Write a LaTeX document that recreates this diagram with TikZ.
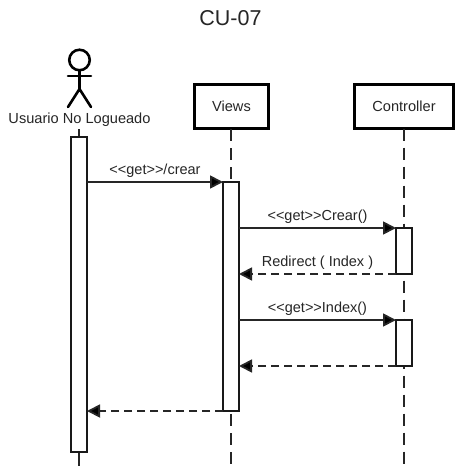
\documentclass[tikz,border=0pt]{standalone}
\usepackage{fontspec}
\setmainfont{Liberation Sans}
\usetikzlibrary{arrows.meta}
\newcommand{\llt}{<{}<}
\newcommand{\ggt}{>{}>}
\tikzset{
  diagram/.style={x=1pt,y=-1pt,every node/.style={inner sep=0pt,outer sep=0pt,text=black!85}},
  headbox/.style={draw=black,fill=white,line width=2.8pt,minimum width=#1,minimum height=44pt,font=\fontsize{14.6}{16}\selectfont},
  actbox/.style={draw=black!90,fill=white,line width=1.8pt,minimum width=16pt,minimum height=#1},
  lifeline/.style={line width=1.8pt,draw=black!85,dash pattern=on 12pt off 7pt},
  solidline/.style={line width=1.8pt,draw=black!85},
  callmsg/.style={line width=1.8pt,draw=black!85,-{Triangle[length=13pt,width=13pt,fill=black]}},
  retmsg/.style={line width=1.8pt,draw=black!85,dash pattern=on 8pt off 5pt,-{Triangle[length=13pt,width=13pt,fill=black]}},
  msglabel/.style={font=\fontsize{14.5}{16}\selectfont},
  actorline/.style={line width=2.6pt,draw=black,line cap=round}
}
\begin{document}
\begin{tikzpicture}[diagram]
\useasboundingbox (0,0) rectangle (461,468);
\fill[white] (0,0) rectangle (461,468);
\node[font=\fontsize{21.5}{24}\selectfont] (title) at (230.5,18) {CU-07};
% head boxes
\node[headbox=74pt] (views) at (231.5,106.5) {Views};
\node[headbox=99pt] (ctrl) at (404,106.5) {Controller};
% actor
\node[circle,draw=black,line width=2.6pt,minimum size=20.5pt] (head) at (79.5,60) {};
\coordinate (hip) at (79.5,89);
\coordinate (armL) at (68,76);
\coordinate (armR) at (91,76);
\coordinate (legL) at (68,107);
\coordinate (legR) at (91,107);
\draw[actorline] (head.south) -- (hip);
\draw[actorline] (armL) -- (armR);
\draw[actorline] (legL) -- (hip) -- (legR);
\node[font=\fontsize{14.6}{16}\selectfont] (ulabel) at (79.5,119.5) {Usuario No Logueado};
% lifeline ends
\coordinate (utop) at (79,129);
\coordinate (ubot) at (79,466);
\coordinate (vtop) at (231,129);
\coordinate (vbot) at (231,466);
\coordinate (cbot) at (404,466);
\draw[solidline] (utop) -- (ubot);
\draw[lifeline] (vtop) -- (vbot);
\draw[lifeline] (ctrl.south) -- (cbot);
% activations
\node[actbox=315pt] (ua) at (79,294.5) {};
\node[actbox=229pt] (va) at (231,296.5) {};
\node[actbox=46pt] (c1) at (404,251) {};
\node[actbox=46pt] (c2) at (404,343) {};
% messages
\draw[callmsg] (ua.east |- va.north west) -- (va.north west)
  node[msglabel,midway,above=4.5pt] (m1) {\llt get\ggt/crear};
\draw[callmsg] (va.east |- c1.north west) -- (c1.north west)
  node[msglabel,midway,above=4.5pt] (m2) {\llt get\ggt Crear()};
\draw[retmsg] (c1.south west) -- (va.east |- c1.south west)
  node[msglabel,midway,above=4.5pt] (m3) {Redirect ( Index )};
\draw[callmsg] (va.east |- c2.north west) -- (c2.north west)
  node[msglabel,midway,above=4.5pt] (m4) {\llt get\ggt Index()};
\draw[retmsg] (c2.south west) -- (va.east |- c2.south west);
\draw[retmsg] (va.south west) -- (ua.east |- va.south west);
\end{tikzpicture}
\end{document}
